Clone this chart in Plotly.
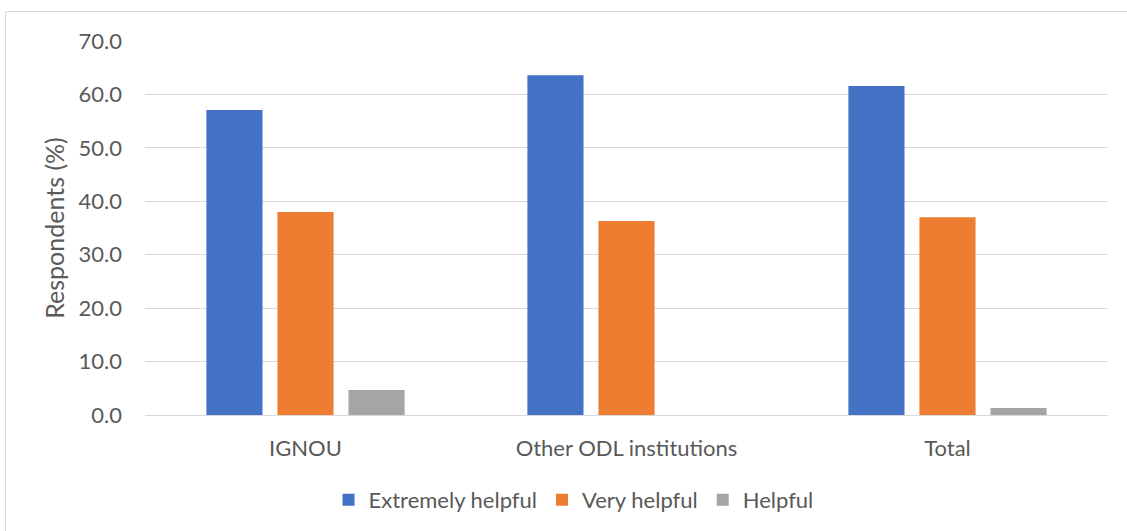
import plotly.graph_objects as go

categories = ["IGNOU", "Other ODL institutions", "Total"]
extremely_helpful = [57.1, 63.6, 61.6]
very_helpful = [38.0, 36.3, 37.0]
helpful = [4.7, 0.0, 1.3]
tick_vals = [0, 10, 20, 30, 40, 50, 60, 70]
tick_text = ["0.0", "10.0", "20.0", "30.0", "40.0", "50.0", "60.0", "70.0"]

W, H = 1127, 531
L, R, T, B = 145, 19, 41, 116
FONT = "Lato"
TXT = "#595959"

fig = go.Figure()
fig.add_trace(go.Bar(name="Extremely helpful", x=categories, y=extremely_helpful,
                     marker=dict(color="#4472C4", line=dict(width=0))))
fig.add_trace(go.Bar(name="Very helpful", x=categories, y=very_helpful,
                     marker=dict(color="#ED7D31", line=dict(width=0))))
fig.add_trace(go.Bar(name="Helpful", x=categories, y=helpful,
                     marker=dict(color="#A5A5A5", line=dict(width=0))))

pw = W - L - R
ph = H - T - B
# outer chart border (only top and left edges visible in frame)
fig.add_shape(type="rect", xref="paper", yref="paper",
              x0=(5.5 - L) / pw, x1=(W + 20 - L) / pw,
              y0=(H - (H + 20) - B) / ph, y1=(H - 11.5 - B) / ph,
              line=dict(color="#D9D9D9", width=1), fillcolor="rgba(0,0,0,0)", layer="below")

fig.update_layout(
    width=W, height=H,
    margin=dict(l=L, r=R, t=T, b=B, autoexpand=False),
    paper_bgcolor="white", plot_bgcolor="white",
    barmode="group", bargap=0.336, bargroupgap=0.21,
    font=dict(family=FONT, color=TXT, size=22),
    showlegend=True,
    legend=dict(orientation="h", x=0.445, xanchor="center",
                yref="container", y=31 / H, yanchor="middle",
                font=dict(size=22, color=TXT, family=FONT), traceorder="normal",
                itemwidth=30, tracegroupgap=0),
    yaxis=dict(range=[0, 70], tickvals=tick_vals, ticktext=tick_text,
               showgrid=True, gridcolor="#D9D9D9", gridwidth=1, zeroline=False,
               showline=False, ticks="", ticklabelstandoff=22,
               tickfont=dict(size=22, color=TXT, family=FONT),
               title=dict(text="Respondents (%)", font=dict(size=25, color=TXT, family=FONT), standoff=6)),
    xaxis=dict(showline=True, linecolor="#D9D9D9", linewidth=1, ticks="",
               tickfont=dict(size=22, color=TXT, family=FONT), ticklabelstandoff=14),
)

fig.write_html("out.html")
